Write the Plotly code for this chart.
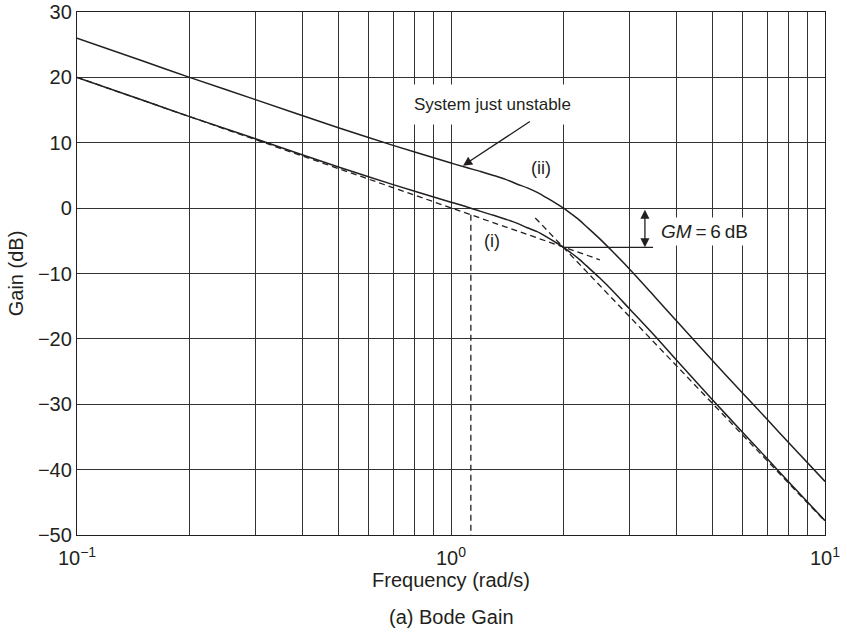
import numpy as np
import plotly.graph_objects as go

# Frequencies (rad/s) and gain readings (dB) for the two open-loop curves
freq = [0.1, 0.15, 0.2, 0.3, 0.5, 0.7, 1.0, 1.1, 1.2, 1.3, 1.4, 1.5, 1.6, 1.7, 1.8,
        1.9, 2.0, 2.1, 2.2, 2.3, 2.5, 2.7, 3.0, 3.5, 4.0, 5.0, 6.0, 7.0, 8.0, 10.0]
gain_i = [20.0, 16.5, 14.0, 10.6, 6.3, 3.6, 0.9, 0.2, -0.5, -1.1, -1.7, -2.3, -3.0, -3.6, -4.4,
          -5.2, -6.0, -6.9, -7.8, -8.8, -10.7, -12.6, -15.4, -19.5, -23.2, -29.3, -34.2, -38.3, -41.9, -47.8]
gain_ii = [26.0, 22.5, 20.0, 16.6, 12.3, 9.6, 6.9, 6.2, 5.6, 5.0, 4.4, 3.7, 3.1, 2.4, 1.6,
           0.8, 0.0, -0.9, -1.8, -2.8, -4.7, -6.6, -9.3, -13.5, -17.2, -23.3, -28.2, -32.3, -35.9, -41.8]

# Straight-line asymptotes of curve (i)
asym_low_f = [0.1, 2.5]
asym_low_db = [20.0, -7.9]
asym_high_f = [1.68, 10.0]
asym_high_db = [-1.5, -47.9]

# Gain crossover marker and gain-margin construction
crossover_f = 1.13
crossover_db = [-1.0, -50.0]
gm_line_f = [2.0, 3.47]
gm_line_db = [-6.0, -6.0]
gm_arrow_f = 3.3
gm_arrow_db = [0.0, -6.0]

x_tickvals = [0.1, 1, 10]
x_ticktext = ["10<sup>\u22121</sup>", "10<sup>0</sup>", "10<sup>1</sup>"]
x_minor = [0.2, 0.3, 0.4, 0.5, 0.6, 0.7, 0.8, 0.9, 2, 3, 4, 5, 6, 7, 8, 9]
y_tickvals = [30, 20, 10, 0, -10, -20, -30, -40, -50]
y_ticktext = ["30", "20", "10", "0", "\u221210", "\u221220", "\u221230", "\u221240", "\u221250"]

INK = "#231f20"
GRID = "#333333"
FONT = "Liberation Sans, Arial, Helvetica, sans-serif"
DASH = "6px,4px"

fig = go.Figure()

fig.add_trace(go.Scatter(x=asym_low_f, y=asym_low_db, mode="lines",
                         line=dict(color=INK, width=1.3, dash=DASH)))
fig.add_trace(go.Scatter(x=asym_high_f, y=asym_high_db, mode="lines",
                         line=dict(color=INK, width=1.3, dash=DASH)))
fig.add_trace(go.Scatter(x=[crossover_f, crossover_f], y=crossover_db, mode="lines",
                         line=dict(color=INK, width=1.3, dash=DASH)))
fig.add_trace(go.Scatter(x=freq, y=gain_i, mode="lines",
                         line=dict(color=INK, width=1.5, shape="spline", smoothing=0.8)))
fig.add_trace(go.Scatter(x=freq, y=gain_ii, mode="lines",
                         line=dict(color=INK, width=1.5, shape="spline", smoothing=0.8)))
fig.add_trace(go.Scatter(x=gm_line_f, y=gm_line_db, mode="lines",
                         line=dict(color=INK, width=1.3)))

lg = np.log10
annotations = [
    dict(x=lg(1.295), y=15.9, xref="x", yref="y", text="System just unstable",
         showarrow=False, font=dict(size=17, color=INK, family=FONT),
         bgcolor="white", borderpad=10),
    dict(x=lg(1.077), y=6.5, ax=lg(1.64), ay=13.4, xref="x", yref="y",
         axref="x", ayref="y", text="", showarrow=True, arrowhead=2,
         arrowsize=1.4, arrowwidth=1.3, arrowcolor=INK, standoff=0),
    dict(x=lg(gm_arrow_f), y=gm_arrow_db[1], ax=lg(gm_arrow_f), ay=gm_arrow_db[0],
         xref="x", yref="y", axref="x", ayref="y", text="", showarrow=True,
         arrowhead=2, arrowside="end+start", arrowsize=1.4, arrowwidth=1.3,
         arrowcolor=INK, standoff=0, startstandoff=0),
    dict(x=lg(3.55), y=-3.5, xref="x", yref="y", xanchor="left",
         text="<i>GM</i>\u2009=\u20096\u2009dB", showarrow=False,
         font=dict(size=19, color=INK, family=FONT), bgcolor="white", borderpad=3),
    dict(x=lg(1.74), y=6.1, xref="x", yref="y", text="(ii)", showarrow=False,
         font=dict(size=18, color=INK, family=FONT)),
    dict(x=lg(1.287), y=-5.05, xref="x", yref="y", text="(i)", showarrow=False,
         font=dict(size=18, color=INK, family=FONT)),
    dict(x=0.5, y=-0.157, xref="paper", yref="paper", yanchor="middle",
         text="(a) Bode Gain", showarrow=False,
         font=dict(size=20, color=INK, family=FONT)),
]

fig.update_layout(
    width=847, height=635, autosize=False,
    margin=dict(l=77, r=22, t=12, b=100),
    paper_bgcolor="white", plot_bgcolor="white",
    showlegend=False,
    font=dict(family=FONT, size=20, color=INK),
    annotations=annotations,
)

fig.update_xaxes(
    type="log", range=[-1, 1], automargin=False,
    tickmode="array", tickvals=x_tickvals, ticktext=x_ticktext,
    showgrid=True, gridcolor=GRID, gridwidth=1,
    minor=dict(tickmode="array", tickvals=x_minor, showgrid=True,
               gridcolor=GRID, gridwidth=1, ticks=""),
    showline=True, linecolor=INK, linewidth=1.3, mirror=True,
    ticks="", zeroline=False, ticklabelstandoff=5,
    title=dict(text="Frequency (rad/s)", font=dict(size=20), standoff=4),
    tickfont=dict(size=20),
)
fig.update_yaxes(
    range=[-50, 30], automargin=False,
    tickmode="array", tickvals=y_tickvals, ticktext=y_ticktext,
    showgrid=True, gridcolor=GRID, gridwidth=1,
    showline=True, linecolor=INK, linewidth=1.3, mirror=True,
    ticks="", zeroline=False,
    title=dict(text="Gain (dB)", font=dict(size=20), standoff=8),
    tickfont=dict(size=20),
)

fig.write_html("out.html")
